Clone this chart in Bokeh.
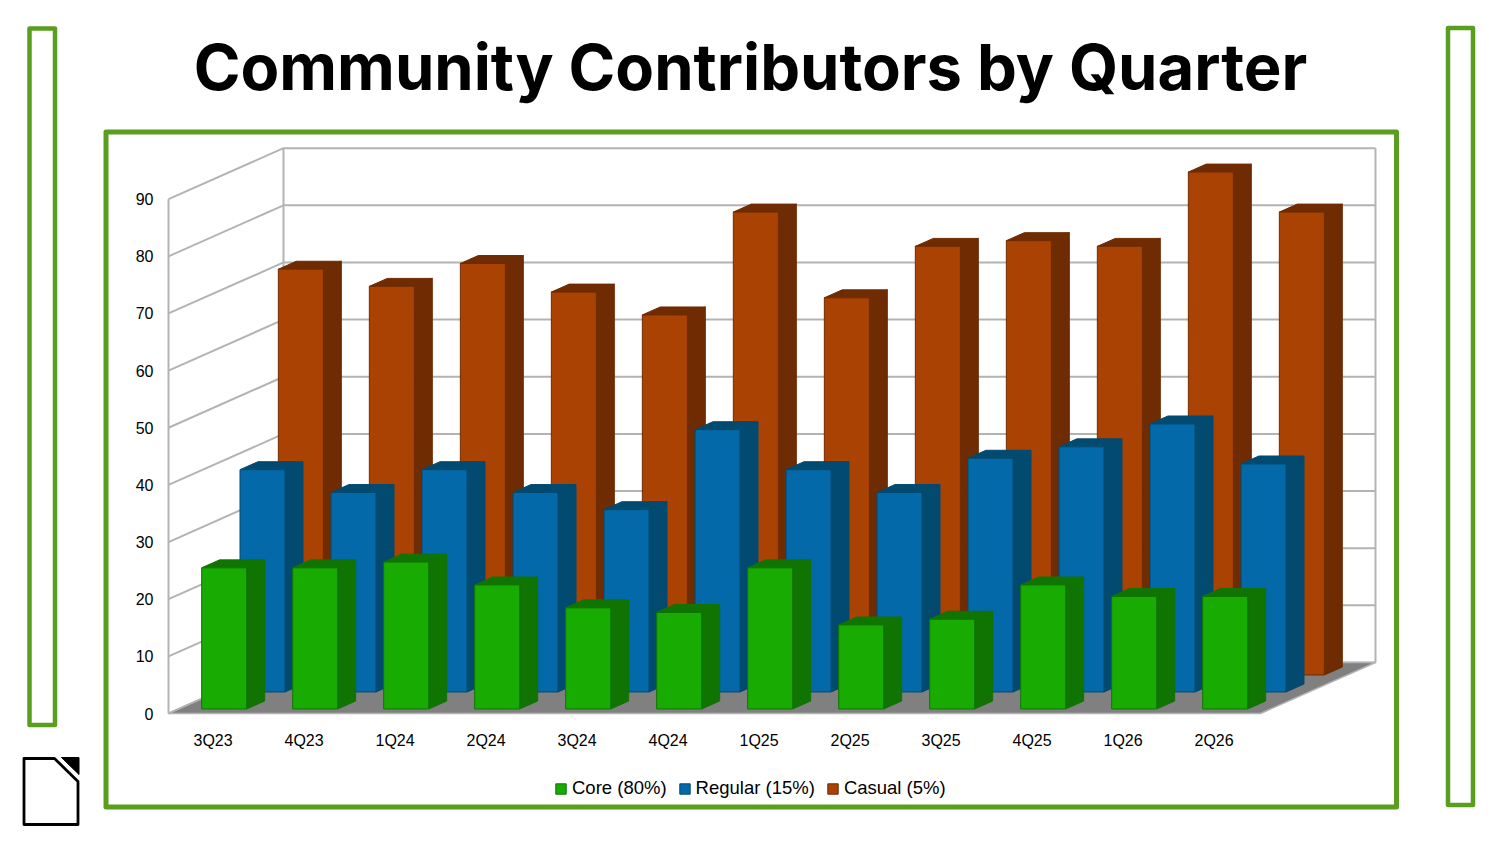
from bokeh.plotting import figure
from bokeh.models import LinearAxis, FixedTicker, Range1d, Legend, LegendItem
from bokeh.core.properties import value
from bokeh.embed import file_html
from bokeh.resources import INLINE

TITLE = "Community Contributors by Quarter"
quarters = ["3Q23", "4Q23", "1Q24", "2Q24", "3Q24", "4Q24", "1Q25", "2Q25", "3Q25", "4Q25", "1Q26", "2Q26"]
core = [24.7, 24.7, 25.7, 21.7, 17.7, 16.9, 24.7, 14.7, 15.7, 21.7, 19.7, 19.7]
regular = [38.9, 34.9, 38.9, 34.9, 31.9, 45.9, 38.9, 34.9, 40.9, 42.9, 46.9, 39.9]
casual = [71, 68, 72, 67, 63, 81, 66, 75, 76, 75, 88, 81]
series_names = ["Core (80%)", "Regular (15%)", "Casual (5%)"]
y_ticks = [0, 10, 20, 30, 40, 50, 60, 70, 80, 90]

FRONT = {"Core (80%)": "#18AB02", "Regular (15%)": "#0369A8", "Casual (5%)": "#A94202"}
DARK = {"Core (80%)": "#107402", "Regular (15%)": "#024A70", "Casual (5%)": "#6F2B02"}
GREEN = "#5A9E1F"
GRID = "#B3B3B3"

# pixel -> data helpers (1 category = 91px, 1 unit = 5.715px, origin at 168,713)
PX_CAT, PX_VAL, X0, Y0 = 91.0, 5.715, 168.0, 713.0
def px(x): return (x - X0) / PX_CAT
def py(y): return (Y0 - y) / PX_VAL

# oblique projection: depth z in 0..1
DX, DY = 115.0 / PX_CAT, 51.0 / PX_VAL
def proj(x, v, z): return x + z * DX, v + z * DY

p = figure(width=1484, height=828, x_range=Range1d(px(0), px(1484)), y_range=Range1d(py(828), py(0)),
           x_axis_type=None, y_axis_type=None, toolbar_location=None, output_backend="svg",
           min_border=0, background_fill_color="white", border_fill_color="white", outline_line_color=None)
p.grid.visible = False

# walls
n = len(quarters)
for t in y_ticks:
    xa, ya = proj(0, t, 0); xb, yb = proj(0, t, 1); xc, yc = proj(n, t, 1)
    p.line([xa, xb, xc], [ya, yb, yc], line_color=GRID, line_width=2)
xa, ya = proj(0, y_ticks[0], 0); xb, yb = proj(0, y_ticks[-1], 0)
p.line([xa, xb], [ya, yb], line_color=GRID, line_width=2)
xa, ya = proj(0, y_ticks[0], 1); xb, yb = proj(0, y_ticks[-1], 1)
p.line([xa, xb], [ya, yb], line_color=GRID, line_width=2)
xa, ya = proj(n, y_ticks[0], 1); xb, yb = proj(n, y_ticks[-1], 1)
p.line([xa, xb], [ya, yb], line_color=GRID, line_width=2)

# floor
fl = [proj(0, 0, 0), proj(n, 0, 0), proj(n, 0, 1), proj(0, 0, 1)]
p.patch([a for a, _ in fl], [b for _, b in fl], fill_color="#808080", line_color=GRID, line_width=1.5)

# bars, back row first
BAR_W = 0.495
HALF_D = 0.078
rows = [("Casual (5%)", casual, 2), ("Regular (15%)", regular, 1), ("Core (80%)", core, 0)]
legend_r = {}
for name, vals, row in rows:
    zc = (row + 0.5) / 3
    z0, z1 = zc - HALF_D, zc + HALF_D
    fx, fy, sx, sy, tx, ty = [], [], [], [], [], []
    for i, v in enumerate(vals):
        l, r = i + 0.5 - BAR_W / 2, i + 0.5 + BAR_W / 2
        pts = [proj(l, 0, z0), proj(r, 0, z0), proj(r, v, z0), proj(l, v, z0)]
        fx.append([a for a, _ in pts]); fy.append([b for _, b in pts])
        pts = [proj(r, 0, z0), proj(r, 0, z1), proj(r, v, z1), proj(r, v, z0)]
        sx.append([a for a, _ in pts]); sy.append([b for _, b in pts])
        pts = [proj(l, v, z0), proj(r, v, z0), proj(r, v, z1), proj(l, v, z1)]
        tx.append([a for a, _ in pts]); ty.append([b for _, b in pts])
    p.patches(sx, sy, fill_color=DARK[name], line_color=DARK[name], line_width=1, line_join="round")
    p.patches(tx, ty, fill_color=DARK[name], line_color=DARK[name], line_width=1, line_join="round")
    legend_r[name] = p.patches(fx, fy, fill_color=FRONT[name], line_color=DARK[name], line_width=1)

# axes
ya = LinearAxis(fixed_location=px(160), ticker=FixedTicker(ticks=y_ticks), axis_line_color=None,
                major_tick_line_color=None, minor_tick_line_color=None, major_label_standoff=1,
                major_label_text_font="Liberation Sans", major_label_text_font_size="16px",
                major_label_text_color="#000000")
p.add_layout(ya, "left")
xa_ = LinearAxis(fixed_location=py(723), ticker=FixedTicker(ticks=[i + 0.49 for i in range(n)]),
                 major_label_overrides={i + 0.49: q for i, q in enumerate(quarters)},
                 axis_line_color=None, major_tick_line_color=None, minor_tick_line_color=None,
                 major_label_standoff=2, major_label_text_font="Liberation Sans",
                 major_label_text_font_size="16px", major_label_text_color="#000000")
p.add_layout(xa_, "below")

# title
p.text([px(750)], [py(66.5)], text=[TITLE], text_font=value("Inter"), text_font_style="bold",
       text_font_size="63.3px", text_align="center", text_baseline="alphabetic", text_color="#000000")

# green frames
for l, r, t, b, w in [(105.5, 1396, 131.5, 806.5, 5), (29, 54.5, 28, 724.5, 4.5), (1447.5, 1472.5, 27.5, 804.5, 4.5)]:
    p.patch([px(l), px(r), px(r), px(l)], [py(t), py(t), py(b), py(b)], fill_color=None,
            line_color=GREEN, line_width=w, line_join="round")

# document icon
p.patch([px(23.5), px(54), px(77.5), px(77.5), px(23.5)], [py(758), py(758), py(781), py(824), py(824)],
        fill_color="white", line_color="#000000", line_width=2.8, line_join="round")
p.patch([px(61), px(78.5), px(78.5)], [py(757), py(757), py(774)], fill_color="#000000", line_color="#000000", line_width=1, line_join="round")

# legend
legend = Legend(items=[LegendItem(label=nm, renderers=[legend_r[nm]]) for nm in series_names],
                orientation="horizontal", location=(554, 29), border_line_color=None,
                background_fill_alpha=0, glyph_width=13, glyph_height=13, label_standoff=5,
                spacing=11, padding=0, margin=0, label_text_font="Liberation Sans",
                label_text_font_size="18.5px", label_text_color="#000000")
p.add_layout(legend, "center")

open("out.html", "w").write(file_html(p, INLINE))
